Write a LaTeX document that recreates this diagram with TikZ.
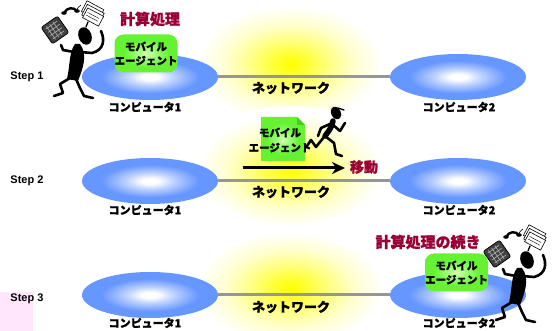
\documentclass[tikz,border=0pt]{standalone}
\usepackage{fontspec}
\setmainfont{Liberation Sans}
\newfontfamily\jp{Noto Sans CJK JP}[BoldFeatures={FakeBold=1.2}]
\usetikzlibrary{shapes.geometric,arrows.meta}

\definecolor{agentred}{RGB}{153,0,51}
\definecolor{diskblue}{RGB}{102,150,255}
\definecolor{netgray}{RGB}{150,150,150}
\definecolor{pinkbg}{RGB}{255,230,252}

% radial shadings: the path's bounding box spans -25bp..25bp
\pgfdeclareradialshading{glow}{\pgfpoint{0bp}{0bp}}{%
  color(0bp)=(yellow); color(3bp)=(yellow!85!white); color(9bp)=(yellow!50!white);
  color(15bp)=(yellow!20!white); color(22bp)=(white); color(50bp)=(white)}
\pgfdeclareradialshading{disk}{\pgfpoint{0bp}{0bp}}{%
  color(0bp)=(white); color(3bp)=(white); color(9bp)=(diskblue!45!white);
  color(18bp)=(diskblue); color(50bp)=(diskblue)}
\pgfdeclareradialshading{agentbox}{\pgfpoint{0bp}{0bp}}{%
  rgb(0bp)=(0.85,1,0.7); rgb(8bp)=(0.6,1,0.45); rgb(18bp)=(0.4,0.95,0.2); rgb(50bp)=(0.4,0.95,0.2)}

\tikzset{
  steplabel/.style={font=\bfseries\fontsize{11}{13}\selectfont},
  computer/.style={ellipse, shading=disk, minimum width=136, minimum height=46, inner sep=0},
  complabel/.style={font=\jp\bfseries\fontsize{11}{13}\selectfont},
  netlabel/.style={font=\jp\bfseries\fontsize{13}{15}\selectfont},
  netline/.style={netgray, line width=3},
  agent/.style={rounded corners=9, shading=agentbox, minimum width=63, minimum height=38,
    inner sep=0, align=center, font=\jp\bfseries\fontsize{10.5}{14}\selectfont},
  agenttext/.style={align=center, font=\jp\bfseries\fontsize{10.5}{15}\selectfont},
  redlabel/.style={text=agentred, font=\jp\bfseries\fontsize{15}{17}\selectfont},
  limb/.style={line width=2.6, line cap=round, line join=round},
  juggler/.pic={
    % telephone handset
    \draw[line width=2.4, line cap=round] (64,13) .. controls (67,7) and (74,7) .. (77,11);
    \fill (64,13) ellipse (2.8 and 1.8);
    \fill (77,11) ellipse (2.8 and 1.8);
    \draw[line width=0.6] (77,9) .. controls (78,6) and (80,7) .. (81,5);
    % flying papers
    \begin{scope}[rotate around={-28:(93,13)}]
      \draw[fill=white, line width=0.6] (82,5) rectangle (101,17);
      \draw[fill=white, line width=0.6] (84,8) rectangle (103,20);
      \draw[fill=white, line width=0.6] (86,11) rectangle (104,22);
      \draw[line width=0.4] (88,15) -- (101,15) (88,18) -- (101,18);
    \end{scope}
    % keyboard
    \begin{scope}[rotate around={35:(55,30)}]
      \draw[fill=black!75, rounded corners=2, line width=0.7] (45,20) rectangle (65,40);
      \foreach \r in {24,28,32,36}
        \draw[white!70!black, line width=0.6] (48,\r) -- (62,\r);
      \foreach \c in {50,54,58}
        \draw[white!70!black, line width=0.6] (\c,22) -- (\c,38);
    \end{scope}
    % head
    \fill[rotate around={20:(85,36)}] (85,36) ellipse (6.5 and 9);
    \draw[line width=1.3, line cap=round] (86,27) -- (88,22);
    % body
    \fill (80,44) .. controls (88,55) and (83,68) .. (78,81)
      -- (67,79) .. controls (70,66) and (69,52) .. (75,44) -- cycle;
    % arms
    \draw[limb] (80,52) -- (92,53) .. controls (104,50) and (105,40) .. (101,31);
    \draw[limb] (74,52) -- (63,50) -- (61,45);
    % legs
    \draw[limb] (70,78) -- (60,84) -- (63,93) -- (54,96);
    \draw[limb] (76,79) -- (80,88) -- (84,96) -- (93,98);
  },
  runner/.pic={
    \fill[rotate around={25:(336,113)}] (336,113) ellipse (4.8 and 6.5);
    \draw[line width=1.4, line cap=round] (338,108) -- (344,110);
    \draw[line width=5.5, line cap=round] (333,121) .. controls (331,128) .. (325,136);
    \draw[limb] (332,124) -- (340,131) -- (345,123);
    \draw[limb] (330,124) -- (321,128) -- (318,136);
    \draw[limb] (325,136) -- (334,143) -- (336,154) -- (342,156);
    \draw[limb] (324,137) -- (316,147) -- (311,140) -- (307,146);
  }
}

\begin{document}
\begin{tikzpicture}[x=1pt, y=-1pt]
  \useasboundingbox (0,0) rectangle (552,331);

  % background tint in the lower left corner
  \fill[pinkbg] (0,292) rectangle (33,331);

  % glow behind each network segment
  \shade[shading=glow] (290,64) ellipse (105 and 66);
  \shade[shading=glow] (290,170) ellipse (105 and 64);
  \shade[shading=glow] (290,288) ellipse (105 and 64);

  % step labels
  \node[steplabel] (s1) at (27,77) {Step 1};
  \node[steplabel] (s2) at (27,181) {Step 2};
  \node[steplabel] (s3) at (27,299) {Step 3};

  % computers
  \node[computer] (c1a) at (150,77) {};
  \node[computer] (c1b) at (458,77) {};
  \node[computer] (c2a) at (150,181) {};
  \node[computer] (c2b) at (458,181) {};
  \node[computer] (c3a) at (150,295) {};
  \node[computer] (c3b) at (458,295) {};

  % network lines
  \draw[netline] (c1a.east) -- (c1b.west);
  \draw[netline] (c2a.east) -- (c2b.west);
  \draw[netline] (c3a.east) -- (c3b.west);

  % computer labels
  \node[complabel] (l1a) at (145,107) {コンピュータ1};
  \node[complabel] (l1b) at (459,107) {コンピュータ2};
  \node[complabel] (l2a) at (145,210) {コンピュータ1};
  \node[complabel] (l2b) at (459,210) {コンピュータ2};
  \node[complabel] (l3a) at (145,323) {コンピュータ1};
  \node[complabel] (l3b) at (459,323) {コンピュータ2};

  % network labels
  \node[netlabel] (n1) at (291,88) {ネットワーク};
  \node[netlabel] (n2) at (291,192) {ネットワーク};
  \node[netlabel] (n3) at (291,307) {ネットワーク};

  % step 1: agent computing on computer 1
  \pic at (0,0) {juggler};
  \node[agent] (ag1) at (146,53.5) {モバイル\\エージェント};
  \node[redlabel] (r1) at (150,19) {計算処理};

  % step 2: agent travelling over the network
  \pic at (0,0) {runner};
  \shade[shading=agentbox] (261,117) -- (297,117) -- (305,125) -- (305,161) -- (261,161) -- cycle;
  \fill[green!55!black, opacity=0.35] (297,117) -- (297,125) -- (305,125) -- cycle;
  \node[agenttext] (ag2) at (280,140) {モバイル\\エージェント};
  \coordinate (mvS) at (243,168);
  \coordinate (mvE) at (345,168);
  \draw[line width=3, -{Stealth[length=13, width=12, inset=4]}] (mvS) -- (mvE);
  \node[redlabel, font=\jp\bfseries\fontsize{14}{16}\selectfont] (r2) at (364,167) {移動};

  % step 3: agent continues on computer 2
  \pic at (442,224) {juggler};
  \node[agent] (ag3) at (456.5,272.5) {モバイル\\エージェント};
  \node[redlabel] (r3) at (428,242) {計算処理の続き};
\end{tikzpicture}
\end{document}
